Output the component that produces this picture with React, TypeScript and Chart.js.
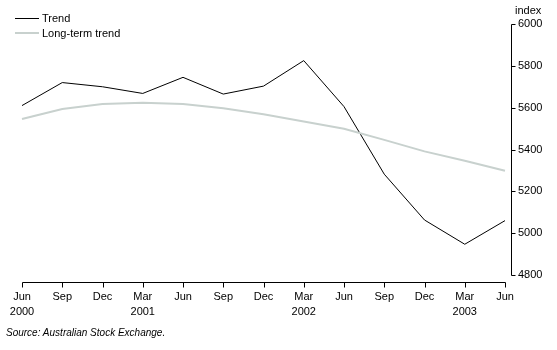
import React, { useEffect, useRef } from "react";
import { Chart, registerables } from "chart.js";

Chart.register(...registerables);

const months = ["Jun", "Sep", "Dec", "Mar", "Jun", "Sep", "Dec", "Mar", "Jun", "Sep", "Dec", "Mar", "Jun"];
const years = ["2000", "", "", "2001", "", "", "", "2002", "", "", "", "2003", ""];
const trend = [5610, 5720, 5700, 5668, 5745, 5665, 5703, 5825, 5605, 5282, 5063, 4947, 5060];
const longTermTrend = [5546, 5594, 5618, 5624, 5617, 5597, 5568, 5534, 5499, 5446, 5391, 5346, 5298];
const yTicks = [4800, 5000, 5200, 5400, 5600, 5800, 6000];

const FONT = "'Liberation Sans', Arial, sans-serif";
const GREY = "rgb(200,209,206)";

const axesPlugin = {
  id: "customAxes",
  afterDraw(chart: any) {
    const { ctx, chartArea, scales } = chart;
    const xs = scales.x;
    const ys = scales.y;
    ctx.save();
    ctx.strokeStyle = "#000";
    ctx.lineWidth = 1;
    // x axis
    const ay = Math.round(chartArea.bottom + 7) + 0.5;
    const x0 = Math.round(xs.getPixelForValue(0)) + 0.5;
    const x1 = Math.round(xs.getPixelForValue(months.length - 1)) + 0.5;
    ctx.beginPath();
    ctx.moveTo(x0, ay);
    ctx.lineTo(x1, ay);
    for (let i = 0; i < months.length; i++) {
      const px = Math.round(xs.getPixelForValue(i)) + 0.5;
      ctx.moveTo(px, ay);
      ctx.lineTo(px, ay + 5);
    }
    ctx.stroke();
    // y axis
    const ax = Math.round(chartArea.right + 6) + 0.5;
    const yTop = Math.round(ys.getPixelForValue(6000)) + 0.5;
    const yBot = Math.round(ys.getPixelForValue(4800)) + 0.5;
    ctx.beginPath();
    ctx.moveTo(ax, yTop);
    ctx.lineTo(ax, yBot);
    for (const v of yTicks) {
      const py = Math.round(ys.getPixelForValue(v)) + 0.5;
      ctx.moveTo(ax, py);
      ctx.lineTo(ax + 4, py);
    }
    ctx.stroke();
    ctx.restore();
  },
};

export default function App() {
  const canvasRef = useRef<HTMLCanvasElement | null>(null);

  useEffect(() => {
    if (!canvasRef.current) return;
    const chart = new Chart(canvasRef.current, {
      type: "line",
      data: {
        labels: months.map((m, i) => [m, years[i]]),
        datasets: [
          {
            label: "Long-term trend",
            data: longTermTrend,
            borderColor: GREY,
            borderWidth: 2,
            pointRadius: 0,
            tension: 0,
            fill: false,
          },
          {
            label: "Trend",
            data: trend,
            borderColor: "#000",
            borderWidth: 1,
            pointRadius: 0,
            tension: 0,
            fill: false,
          },
        ],
      },
      options: {
        animation: false,
        responsive: false,
        maintainAspectRatio: false,
        layout: { padding: { left: 22, top: 24, right: 0, bottom: 0 } },
        plugins: {
          legend: { display: false },
          tooltip: { enabled: false },
        },
        scales: {
          x: {
            type: "category",
            offset: false,
            grid: { display: false, drawTicks: false },
            border: { display: false },
            ticks: {
              autoSkip: false,
              maxRotation: 0,
              minRotation: 0,
              padding: 14,
              color: "#000",
              font: { family: FONT, size: 11, lineHeight: 15 / 11 },
            },
            afterFit: (s: any) => {
              s.height = 75;
              s.paddingLeft = 0;
              s.paddingRight = 0;
            },
          },
          y: {
            position: "right",
            min: 4800,
            max: 6000,
            grid: { display: false, drawTicks: false },
            border: { display: false },
            ticks: {
              stepSize: 200,
              padding: 13,
              color: "#000",
              font: { family: FONT, size: 11 },
              callback: (v: any) => String(v),
            },
            afterFit: (s: any) => {
              s.width = 52;
              s.paddingTop = 0;
              s.paddingBottom = 0;
            },
          },
        },
      },
      plugins: [axesPlugin],
    });
    return () => chart.destroy();
  }, []);

  const textBase: React.CSSProperties = {
    position: "absolute",
    fontFamily: FONT,
    fontSize: 11,
    color: "#000",
    lineHeight: "12px",
    whiteSpace: "nowrap",
  };

  return (
    <div style={{ position: "fixed", left: 0, top: 0, width: 557, height: 350, background: "#fff" }}>
      <canvas ref={canvasRef} width={557} height={350} style={{ position: "absolute", left: 0, top: 0 }} />
      <div style={{ position: "absolute", left: 15, top: 18, width: 24, height: 1, background: "#000" }} />
      <div style={{ ...textBase, left: 42, top: 12 }}>Trend</div>
      <div style={{ position: "absolute", left: 15, top: 32, width: 24, height: 2, background: GREY }} />
      <div style={{ ...textBase, left: 42, top: 27 }}>Long-term trend</div>
      <div style={{ ...textBase, left: 515, top: 4 }}>index</div>
      <div style={{ ...textBase, left: 6, top: 327, fontSize: 10, fontStyle: "italic" }}>
        Source: Australian Stock Exchange.
      </div>
    </div>
  );
}
